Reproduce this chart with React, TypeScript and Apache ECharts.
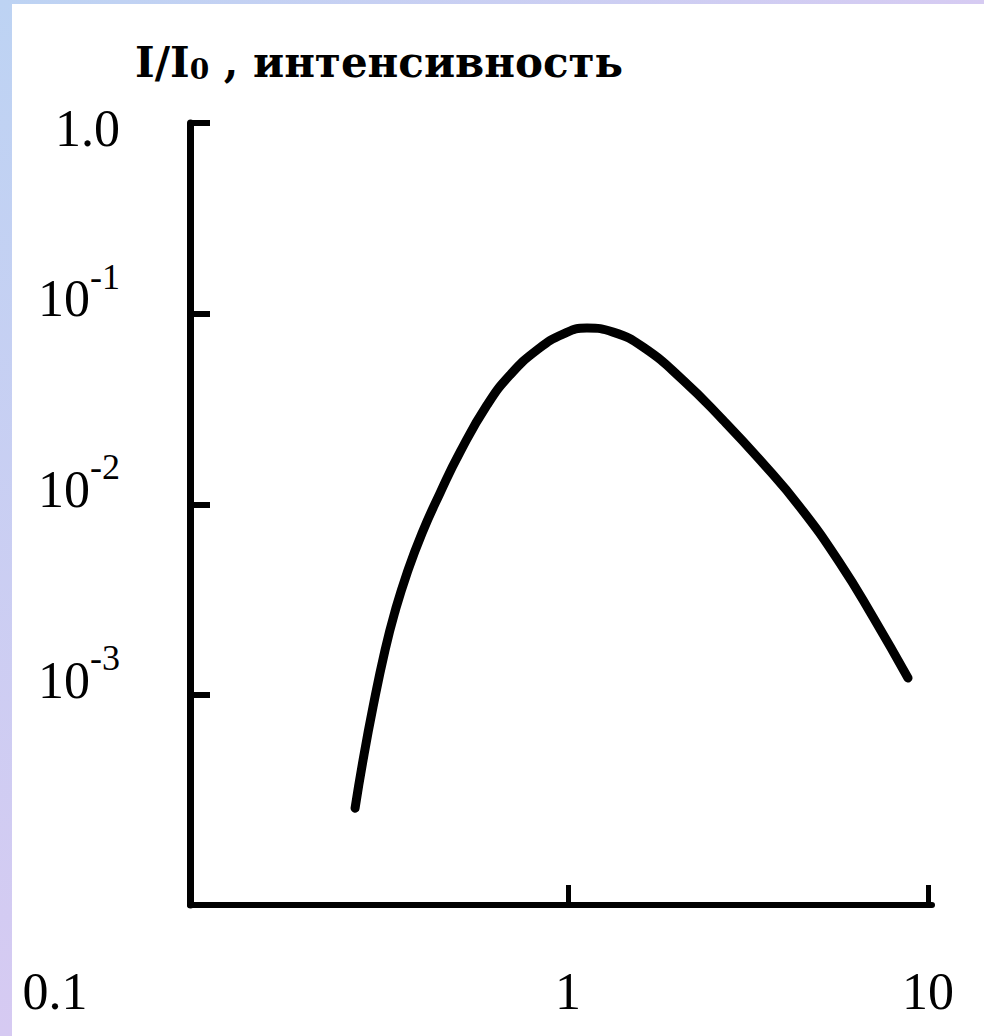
import React, { useEffect, useRef } from "react";
import * as echarts from "echarts";

// Curve: x (relative units, log) vs I/I0 (log)
const xValues = [0.2561, 0.2695, 0.2872, 0.3102, 0.3307, 0.357, 0.393, 0.441, 0.5012, 0.5957, 0.6898, 0.82, 0.9685, 1.129, 1.334, 1.616, 2.086, 2.696, 3.415, 4.411, 5.696, 7.035, 8.8];
const intensity = [2.556e-4, 4.56e-4, 8.65e-4, 1.722e-3, 2.75e-3, 4.363e-3, 7.07e-3, 0.01147, 0.01881, 0.0332, 0.04769, 0.0645, 0.0782, 0.0841, 0.0801, 0.0669, 0.0449, 0.0277, 0.0171, 0.00968, 0.00492, 0.00257, 0.00123];

const xTickValues = [1, 10];
const xLabelValues = [0.1, 1, 10];
const yTickValues = [1, 0.1, 0.01, 0.001];
const yLabelValues = [1, 0.1, 0.01, 0.001];
const titleText = "I/I{sub|0} , интенсивность";

const SERIF = "'Liberation Serif', 'Times New Roman', serif";

export default function App() {
  const ref = useRef<HTMLDivElement>(null);
  useEffect(() => {
    if (!ref.current) return;
    const chart = echarts.init(ref.current, undefined, { renderer: "svg" });
    const data = xValues.map((x, i) => [x, intensity[i]]);
    chart.setOption({
      animation: false,
      backgroundColor: "#ffffff",
      title: {
        text: titleText,
        left: 130,
        top: 36,
        textStyle: {
          fontFamily: "'DejaVu Serif', serif",
          fontSize: 42,
          fontWeight: "bold",
          color: "#000",
          rich: {
            sub: { fontFamily: "'DejaVu Serif', serif", fontSize: 28, fontWeight: "bold", verticalAlign: "bottom", color: "#000" },
          },
        },
      },
      graphic: [
        {
          type: "rect",
          shape: { x: 0, y: 0, width: 12, height: 1036 },
          style: {
            fill: new echarts.graphic.LinearGradient(0, 0, 0, 1, [
              { offset: 0, color: "#bdd3f3" },
              { offset: 1, color: "#d6caf2" },
            ]),
          },
          silent: true,
        },
        {
          type: "rect",
          shape: { x: 0, y: 0, width: 984, height: 4 },
          style: {
            fill: new echarts.graphic.LinearGradient(0, 0, 1, 0, [
              { offset: 0, color: "#bdd3f3" },
              { offset: 1, color: "#d6cbf2" },
            ]),
          },
          silent: true,
        },
      ],
      grid: { left: 190, right: 52, top: 123, bottom: 131, outerBoundsMode: "none" },
      xAxis: {
        type: "log",
        logBase: 10,
        min: 0.0891,
        max: 10.26,
        splitLine: { show: false },
        axisLine: { lineStyle: { color: "#000", width: 6 } },
        axisTick: { inside: true, length: 20, lineStyle: { color: "#000", width: 5 }, customValues: xTickValues },
        axisLabel: {
          customValues: xLabelValues,
          margin: 60,
          color: "#000",
          fontFamily: SERIF,
          fontSize: 52,
          formatter: (v: number) => (v < 0.5 ? "{shift|0.1}" : String(Math.round(v))),
          rich: {
            shift: { fontFamily: SERIF, fontSize: 52, color: "#000", padding: [0, 306, 0, 0] },
          },
        },
      },
      yAxis: {
        type: "log",
        logBase: 10,
        min: Math.pow(10, -4.1),
        max: 1,
        splitLine: { show: false },
        axisLine: { lineStyle: { color: "#000", width: 7 } },
        axisTick: { inside: true, length: 20, lineStyle: { color: "#000", width: 6 }, customValues: yTickValues },
        axisLabel: {
          customValues: yLabelValues,
          margin: 70,
          color: "#000",
          fontFamily: SERIF,
          fontSize: 52,
          formatter: (v: number) => {
            const e = Math.round(Math.log10(v));
            return e === 0 ? "{p|1.0}" : "{n|10}{sup|" + e + "}";
          },
          rich: {
            p: { fontFamily: SERIF, fontSize: 52, color: "#000", padding: [10, 0, 0, 0] },
            n: { fontFamily: SERIF, fontSize: 52, color: "#000", padding: [14, 0, 44, 0], verticalAlign: "bottom" },
            sup: { fontFamily: SERIF, fontSize: 36, color: "#000", verticalAlign: "top" },
          },
        },
      },
      series: [
        {
          type: "line",
          data,
          smooth: 0.5,
          showSymbol: false,
          symbol: "none",
          lineStyle: { color: "#000", width: 9, cap: "round" },
        },
      ],
    });
    return () => chart.dispose();
  }, []);
  return (
    <div
      ref={ref}
      style={{ position: "fixed", left: 0, top: 0, width: 984, height: 1036, background: "#fff" }}
    />
  );
}
